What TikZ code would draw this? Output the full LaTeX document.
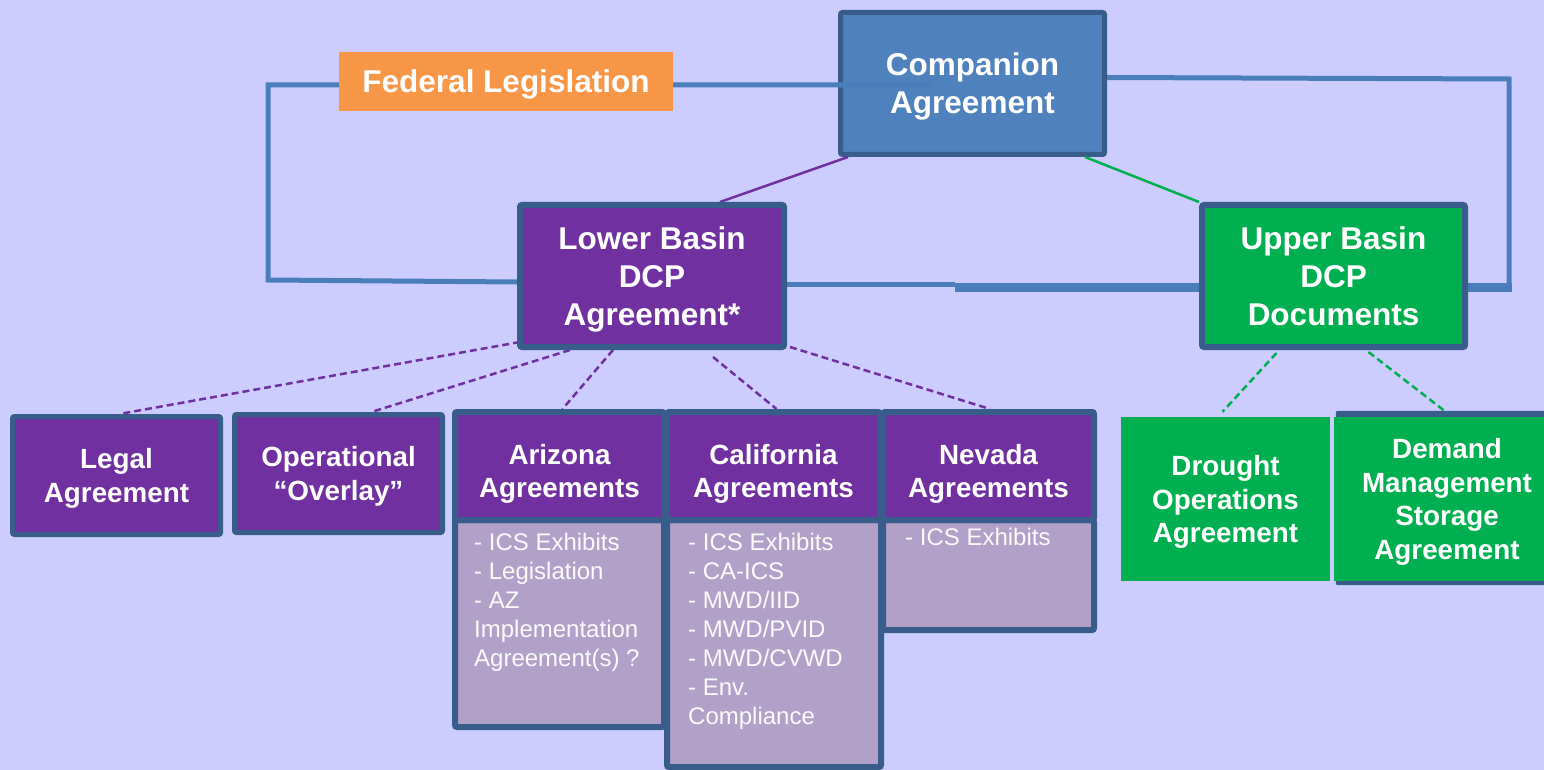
\documentclass[tikz,border=0pt]{standalone}
\usepackage{fontspec}
\setmainfont{Liberation Sans}
\usetikzlibrary{calc}

\definecolor{paperbg}{RGB}{204,204,255}
\definecolor{compblue}{RGB}{79,129,189}
\definecolor{loopblue}{RGB}{74,126,187}
\definecolor{edgeblue}{RGB}{56,93,138}
\definecolor{dcppurple}{RGB}{112,48,160}
\definecolor{dcpgreen}{RGB}{0,176,80}
\definecolor{fedorange}{RGB}{247,150,70}
\definecolor{itemfill}{RGB}{177,160,199}

\pgfdeclarelayer{paper}
\pgfdeclarelayer{under}
\pgfdeclarelayer{wires}
\pgfsetlayers{paper,under,wires,main}

\begin{document}
\begin{tikzpicture}[x=1pt,y=-1pt,
  box/.style={draw=edgeblue, rounded corners=2pt, inner sep=0pt, align=center,
    text=white, text depth=0pt},
  head/.style={font=\fontsize{31.5}{38}\selectfont\bfseries},
  sub/.style={font=\fontsize{27.8}{33.6}\selectfont\bfseries},
  statehead/.style={box, sub, fill=dcppurple, line width=6pt, minimum height=108pt,
    text height=63.5pt},
  itembox/.style={box, fill=itemfill, line width=6pt},
  items/.style={font=\fontsize{24}{29}\selectfont, text=white!96!gray,
    align=left, anchor=north west, inner sep=0pt},
  loopline/.style={draw=loopblue, line width=5pt},
  dpurple/.style={draw=dcppurple, line width=2.5pt, dash pattern=on 7pt off 4pt},
  dgreen/.style={draw=dcpgreen, line width=2.5pt, dash pattern=on 7pt off 4pt},
]

\begin{pgfonlayer}{paper}
  \fill[paperbg] (0,0) rectangle (1544,770);
\end{pgfonlayer}
\useasboundingbox (0,0) rectangle (1544,770);

% top level
\begin{pgfonlayer}{under}
  \node[box, head, fill=compblue, line width=5pt, minimum width=264pt,
        minimum height=142pt] (comp) at (972.5,83.5) {Companion\\Agreement};
\end{pgfonlayer}

\node[fill=fedorange, inner sep=0pt, text=white, text depth=0pt, head,
      minimum width=334pt, minimum height=59pt] (fed) at (506,81.5) {Federal Legislation};

% basin level
\node[box, head, fill=dcppurple, line width=6pt, minimum width=264pt,
      minimum height=142pt] (lb) at (652,276) {Lower Basin\\DCP\\Agreement*};
\node[box, head, fill=dcpgreen, line width=6pt, minimum width=263pt,
      minimum height=142pt] (ub) at (1333.5,276) {Upper Basin\\DCP\\Documents};

% lower basin documents
\node[box, sub, fill=dcppurple, line width=5pt, minimum width=208pt,
      minimum height=118pt] (legal) at (116.5,475.5) {Legal\\Agreement};
\node[box, sub, fill=dcppurple, line width=5pt, minimum width=208pt,
      minimum height=118pt] (oper) at (338.5,473.5) {Operational\\“Overlay”};

\node[itembox, minimum width=209pt, minimum height=207pt] (azb) at (559.5,623.5) {};
\node[itembox, minimum width=214pt, minimum height=247pt] (cab) at (774,643.5) {};
\node[itembox, minimum width=211pt, minimum height=110pt] (nvb) at (988.5,575) {};

\node[statehead, minimum width=209pt] (azh) at (559.5,466) {Arizona\\Agreements};
\node[statehead, minimum width=213pt] (cah) at (773.5,466) {California\\Agreements};
\node[statehead, minimum width=211pt] (nvh) at (988.5,466) {Nevada\\Agreements};

\node[items] (azl) at (474,533) {- ICS Exhibits\\- Legislation\\- AZ\\Implementation\\Agreement(s) ?};
\node[items] (cal) at (688,533) {- ICS Exhibits\\- CA-ICS\\- MWD/IID\\- MWD/PVID\\- MWD/CVWD\\- Env.\\Compliance};
\node[items] (nvl) at (905,528) {- ICS Exhibits};

% upper basin documents
\node[fill=dcpgreen, inner sep=0pt, align=center, text=white, text depth=0pt, sub,
      minimum width=209pt, minimum height=164pt] (dro) at (1225.5,499)
      {Drought\\Operations\\Agreement};
\node[fill=dcpgreen, inner sep=0pt, align=center, text=white, text depth=0pt, sub,
      minimum width=226pt, minimum height=164pt] (dem) at (1447,499)
      {Demand\\Management\\Storage\\Agreement};

\begin{pgfonlayer}{wires}
  % frame behind the demand management box
  \fill[edgeblue, rounded corners=2pt] ($(dem.north west)+(2,-6)$) rectangle ($(dem.south east)+(0,4)$);

  % blue loop through the companion agreement
  \coordinate (cin) at ($(comp.west)+(93,1.5)$);
  \draw[loopline] (cin) -- (268,85) -- (268,280) -- ($(lb.west)+(0,6)$);
  \draw[loopline] ($(lb.east)+(0,8)$) -- (955,284);
  \draw[draw=loopblue, line width=9pt] (955,287) -- ($(ub.east)+(44,11)$);
  \draw[loopline] (1509,291) -- (1509,79) -- ($(comp.east)+(0,-6)$);

  % companion agreement to the basins
  \draw[dcppurple, line width=2.5pt] ($(comp.south west)+(10,0)$) -- ($(lb.north)+(68,0)$);
  \draw[dcpgreen, line width=2.5pt] ($(comp.south east)+(-22,0)$) -- (ub.north west);

  % lower basin documents
  \draw[dpurple] ($(lb.south west)+(3,-8)$) -- ($(legal.north)+(3,0)$);
  \draw[dpurple] ($(lb.south west)+(53,0)$) -- ($(oper.north)+(33,0)$);
  \draw[dpurple] ($(lb.south)+(-39,0)$) -- ($(azh.north)+(3,0)$);
  \draw[dpurple] ($(lb.south)+(61,7)$) -- ($(cah.north)+(3,0)$);
  \draw[dpurple] ($(lb.south east)+(3,-3)$) -- ($(nvh.north)+(1.5,0)$);

  % upper basin documents
  \draw[dgreen] ($(ub.south)+(-57,3)$) -- ($(dro.north)+(-3,-5)$);
  \draw[dgreen] ($(ub.south)+(35,2)$) -- ($(dem.north)+(0,-4)$);
\end{pgfonlayer}

\end{tikzpicture}
\end{document}
